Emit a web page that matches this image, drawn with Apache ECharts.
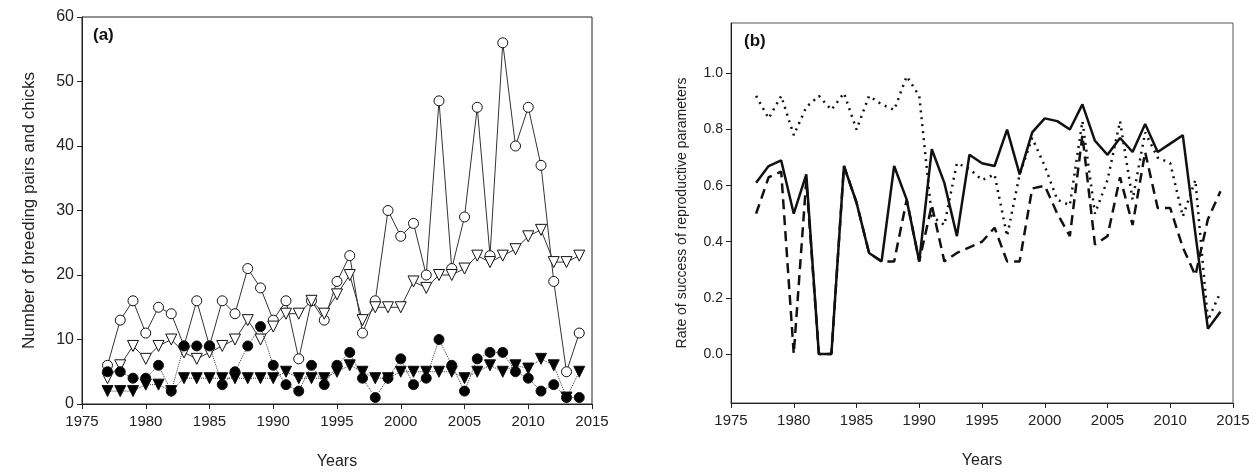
<!DOCTYPE html>
<html><head><meta charset="utf-8">
<script src="https://cdn.jsdelivr.net/npm/echarts@6/dist/echarts.min.js"></script>
<style>html,body{margin:0;background:#fff}#chart{width:1258px;height:475px}</style>
</head><body><div id="chart"></div>
<script>
// years 1977..2014
const years = [];
for (let y = 1977; y <= 2014; y++) years.push(y);
// panel (a)
const openCircles = [6,13,16,11,15,14,9,16,9,16,14,21,18,13,16,7,16,13,19,23,11,16,30,26,28,20,47,21,29,46,23,56,40,46,37,19,5,11];
const openTriangles = [4,6,9,7,9,10,8,7,8,9,10,13,10,12,14,14,16,14,17,20,13,15,15,15,19,18,20,20,21,23,22,23,24,26,27,22,22,23];
const filledCircles = [5,5,4,4,6,2,9,9,9,3,5,9,12,6,3,2,6,3,6,8,4,1,4,7,3,4,10,6,2,7,8,8,5,4,2,3,1,1];
const filledTriangles = [2,2,2,3,3,2,4,4,4,4,4,4,4,4,5,4,4,4,5,6,5,4,4,5,5,5,5,5,4,5,6,5,6,5.5,7,6,1,5];
// panel (b)
const solidRate = [0.61,0.67,0.69,0.50,0.64,0,0,0.67,0.54,0.36,0.33,0.67,0.55,0.33,0.73,0.61,0.42,0.71,0.68,0.67,0.80,0.64,0.79,0.84,0.83,0.80,0.89,0.76,0.71,0.77,0.72,0.82,0.72,0.75,0.78,0.43,0.09,0.15];
const dashedRate = [0.50,0.63,0.65,0,0.62,0,0,0.67,0.54,0.36,0.33,0.33,0.55,0.33,0.53,0.33,0.36,0.38,0.40,0.45,0.33,0.33,0.59,0.60,0.50,0.42,0.78,0.39,0.42,0.63,0.46,0.72,0.52,0.52,0.38,0.28,0.48,0.58];
const dottedRate = [0.92,0.84,0.92,0.78,0.88,0.92,0.87,0.93,0.80,0.92,0.89,0.87,0.99,0.92,0.49,0.46,0.68,0.66,0.62,0.64,0.42,0.64,0.77,0.67,0.55,0.53,0.83,0.50,0.62,0.83,0.55,0.79,0.70,0.68,0.49,0.62,0.12,0.22];
const rateTicks = [0, 0.2, 0.4, 0.6, 0.8, 1.0];

const pair = arr => arr.map((v, i) => [years[i], v]);
const font = 'Liberation Sans, Arial, sans-serif';
const axisBase = {
    axisLine: { onZero: false, lineStyle: { color: '#222' } },
    axisTick: { inside: false, length: 5, lineStyle: { color: '#222' } },
    axisLabel: { color: '#222', fontFamily: font, fontSize: 15 },
    splitLine: { show: false }
};
const xAxis = idx => Object.assign({}, axisBase, {
    type: 'value', gridIndex: idx, min: 1975, max: 2015, interval: 5,
    axisLabel: { color: '#222', fontFamily: font, fontSize: 15, margin: 10, formatter: v => String(v) },
    name: 'Years', nameLocation: 'middle', nameGap: 50,
    nameTextStyle: { fontFamily: font, fontSize: 16, color: '#222' }
});
const markerSeries = (name, data, symbol, fill, lineType) => ({
    name: name, type: 'line', xAxisIndex: 0, yAxisIndex: 0, data: pair(data),
    symbol: symbol, symbolSize: symbol === 'circle' ? 10 : 11, symbolRotate: symbol === 'triangle' ? 180 : 0,
    itemStyle: { color: fill, borderColor: '#111', borderWidth: 1 },
    lineStyle: { color: '#333', width: 1, type: lineType }, z: fill === '#fff' ? 2 : 3
});
const rateSeries = (name, data, lineType) => ({
    name: name, type: 'line', xAxisIndex: 1, yAxisIndex: 1, data: pair(data), symbol: 'none',
    lineStyle: { color: '#111', width: 2.5, type: lineType }
});

let myChart = echarts.init(document.getElementById('chart'));
myChart.setOption({
    animation: false,
    grid: [
        { left: 82, right: 666, top: 17, bottom: 71, show: true, borderColor: '#222', borderWidth: 1 },
        { left: 731, right: 25, top: 23, bottom: 72, show: true, borderColor: '#555', borderWidth: 1 }
    ],
    title: [
        { text: '(a)', left: 88, top: 22, textStyle: { fontFamily: font, fontSize: 17, fontWeight: 'bold', color: '#111' } },
        { text: '(b)', left: 739, top: 28, textStyle: { fontFamily: font, fontSize: 17, fontWeight: 'bold', color: '#111' } }
    ],
    xAxis: [xAxis(0), xAxis(1)],
    yAxis: [
        Object.assign({}, axisBase, {
            type: 'value', gridIndex: 0, min: 0, max: 60, interval: 10,
            axisLabel: { color: '#222', fontFamily: font, fontSize: 16 },
            name: 'Number of breeding pairs and chicks', nameLocation: 'middle', nameGap: 44,
            nameTextStyle: { fontFamily: font, fontSize: 17, color: '#222' }
        }),
        Object.assign({}, axisBase, {
            type: 'value', gridIndex: 1, min: -0.175, max: 1.18,
            axisTick: { length: 5, customValues: rateTicks, lineStyle: { color: '#222' } },
            axisLabel: { color: '#222', fontFamily: font, fontSize: 14, customValues: rateTicks,
                formatter: v => v.toFixed(1) },
            name: 'Rate of success of reproductive parameters', nameLocation: 'middle', nameGap: 42,
            nameTextStyle: { fontFamily: font, fontSize: 14, color: '#222' }
        })
    ],
    series: [
        markerSeries('Breeding pairs (open circles)', openCircles, 'circle', '#fff', 'solid'),
        markerSeries('Open triangles', openTriangles, 'triangle', '#fff', 'solid'),
        markerSeries('Filled circles', filledCircles, 'circle', '#000', 'dotted'),
        markerSeries('Filled triangles', filledTriangles, 'triangle', '#000', 'dotted'),
        rateSeries('Solid', solidRate, 'solid'),
        rateSeries('Dashed', dashedRate, [10, 6]),
        rateSeries('Dotted', dottedRate, [2, 5])
    ]
});
</script></body></html>
